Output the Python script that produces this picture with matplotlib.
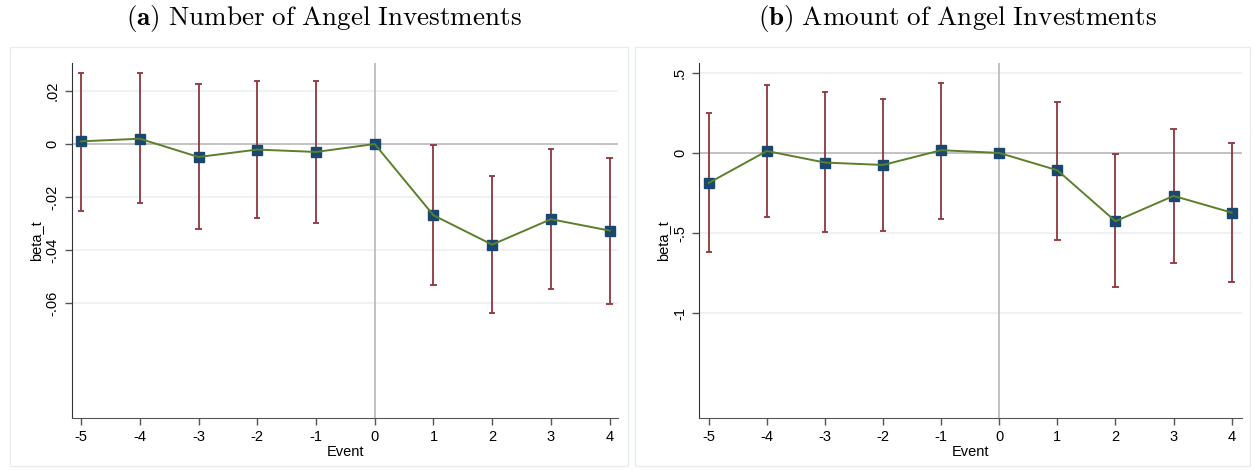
import matplotlib
matplotlib.use("Agg")
import matplotlib.pyplot as plt
from matplotlib.patches import Rectangle

plt.rcParams['font.family'] = ['Liberation Sans', 'DejaVu Sans']
plt.rcParams['mathtext.fontset'] = 'cm'

# event time
events = [-5, -4, -3, -2, -1, 0, 1, 2, 3, 4]

# (a) number of angel investments
num_beta = [0.001, 0.002, -0.0049, -0.0021, -0.003, 0.0, -0.0269, -0.038, -0.0284, -0.0327]
num_hi = [0.027, 0.0267, 0.0226, 0.0238, 0.0238, None, -0.0002, -0.0119, -0.0017, -0.0051]
num_lo = [-0.0254, -0.0223, -0.0322, -0.0279, -0.0297, None, -0.0533, -0.064, -0.0548, -0.0606]
num_ticks = [-0.06, -0.04, -0.02, 0, 0.02]
num_ticklabels = ["-.06", "-.04", "-.02", "0", ".02"]

# (b) amount of angel investments
amt_beta = [-0.187, 0.012, -0.06, -0.075, 0.017, 0.0, -0.108, -0.426, -0.268, -0.372]
amt_hi = [0.252, 0.424, 0.377, 0.337, 0.436, None, 0.32, -0.008, 0.148, 0.062]
amt_lo = [-0.617, -0.399, -0.496, -0.486, -0.409, None, -0.544, -0.839, -0.686, -0.808]
amt_ticks = [-1, -0.5, 0, 0.5]
amt_ticklabels = ["-1", "-.5", "0", ".5"]

line_col = "#5b7f2b"
marker_col = "#1a476f"
ci_col = "#90353b"

fig = plt.figure(figsize=(12.57, 4.70), dpi=100)

# light frames around each panel
fig.patches.append(Rectangle((10 / 1257, 4 / 470), 618 / 1257, 419 / 470,
                             transform=fig.transFigure, fill=False,
                             edgecolor="#e6ecef", lw=1))
fig.patches.append(Rectangle((635 / 1257, 4 / 470), 615 / 1257, 419 / 470,
                             transform=fig.transFigure, fill=False,
                             edgecolor="#e6ecef", lw=1))


def draw_panel(ax, beta, hi, lo, ticks, ticklabels, ylim, xlim):
    ci_x = [e for e, h in zip(events, hi) if h is not None]
    ci_lo = [l for l in lo if l is not None]
    ci_hi = [h for h in hi if h is not None]
    for t in ticks:
        if t != 0:
            ax.axhline(t, color="#eaf0f3", lw=1.2, zorder=0)
    ax.axhline(0, color="#b8b8b8", lw=1.2, zorder=1)
    ax.axvline(0, color="#b8b8b8", lw=1.2, zorder=1)
    ax.vlines(ci_x, ci_lo, ci_hi, color=ci_col, lw=1.3, zorder=2)
    ax.hlines(ci_lo, [x - 0.055 for x in ci_x], [x + 0.055 for x in ci_x], color=ci_col, lw=1.3, zorder=2)
    ax.hlines(ci_hi, [x - 0.055 for x in ci_x], [x + 0.055 for x in ci_x], color=ci_col, lw=1.3, zorder=2)
    ax.plot(events, beta, color=marker_col, marker="s", ms=6.5, lw=0, zorder=3)
    ax.plot(events, beta, color=line_col, lw=1.4, zorder=4)
    ax.set_xlim(xlim)
    ax.set_ylim(ylim)
    ax.set_xticks(events)
    ax.set_xticklabels([str(e) for e in events], fontsize=10.5)
    ax.set_yticks(ticks)
    ax.set_yticklabels(ticklabels, fontsize=10.5, rotation=90, va="center")
    ax.spines["top"].set_visible(False)
    ax.spines["right"].set_visible(False)
    ax.spines["left"].set_color("#333333")
    ax.spines["bottom"].set_color("#555555")
    ax.tick_params(axis="both", colors="#555555", labelcolor="black", length=5, width=1)
    ax.set_xlabel("Event", fontsize=10.5, labelpad=1)
    ax.set_ylabel("beta_t", fontsize=10.5, labelpad=2)


ax1 = fig.add_axes([0.057, 0.111, 0.435, 0.755])
draw_panel(ax1, num_beta, num_hi, num_lo, num_ticks, num_ticklabels,
           (-0.1034, 0.0306), (-5.16, 4.15))

ax2 = fig.add_axes([0.556, 0.111, 0.4317, 0.755])
draw_panel(ax2, amt_beta, amt_hi, amt_lo, amt_ticks, amt_ticklabels,
           (-1.652, 0.561), (-5.17, 4.17))

fig.text(324 / 1257, 1 - 19 / 470,
         r"$\mathbf{(a)}\ \mathrm{Number\ of\ Angel\ Investments}$",
         ha="center", va="center", fontsize=19.5)
fig.text(958 / 1257, 1 - 19 / 470,
         r"$\mathbf{(b)}\ \mathrm{Amount\ of\ Angel\ Investments}$",
         ha="center", va="center", fontsize=19.5)

fig.savefig("out.png", dpi=100)
